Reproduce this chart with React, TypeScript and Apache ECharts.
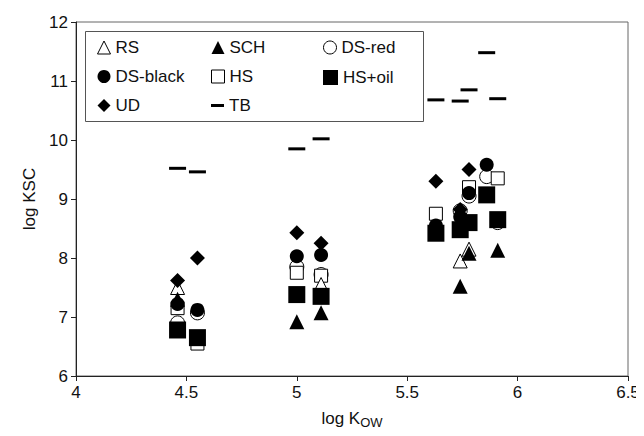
import React, { useEffect, useRef } from "react";
import * as echarts from "echarts";

const logKow = [4.46, 4.55, 5.0, 5.11, 5.63, 5.74, 5.78, 5.86, 5.91];
const RS = [7.5, null, null, 7.55, null, 7.95, 8.15, null, null];
const SCH = [7.3, null, 6.92, 7.07, null, 7.52, 8.08, null, 8.13];
const DSred = [6.9, 7.07, 7.85, 7.72, null, 8.8, 9.05, 9.38, 8.6];
const DSblack = [7.22, 7.12, 8.03, 8.05, 8.55, 8.7, 9.1, 9.58, null];
const HS = [7.15, 6.55, 7.75, 7.7, 8.75, null, 9.2, null, 9.35];
const HSoil = [6.78, 6.65, 7.38, 7.35, 8.42, 8.48, 8.6, 9.07, 8.65];
const UD = [7.62, 8.0, 8.43, 8.25, 9.3, 8.82, 9.5, null, null];
const TB = [9.52, 9.46, 9.85, 10.02, 10.68, 10.66, 10.85, 11.48, 10.7];

const pairs = (vals: (number | null)[]) =>
  logKow.map((x, i) => [x, vals[i]]).filter((p) => p[1] !== null);

const FONT = "Liberation Sans, Arial, sans-serif";
const TXT = "#111";

export default function App() {
  const ref = useRef<HTMLDivElement>(null);
  useEffect(() => {
    const chart = echarts.init(ref.current!, undefined, { renderer: "svg" });
    const open = { color: "#fff", borderColor: "#000", borderWidth: 1, opacity: 1 };
    const filled = { color: "#000", opacity: 1 };
    const mk = (name: string, data: (number | null)[], symbol: string, size: any, style: any, z = 2) => ({
      name,
      type: "scatter",
      data: pairs(data),
      symbol,
      symbolSize: size,
      itemStyle: style,
      z,
    });
    const legendBase = {
      orient: "vertical",
      itemWidth: 13,
      itemHeight: 13,
      itemGap: 9,
      padding: 0,
      selectedMode: false,
      itemStyle: { borderWidth: 1 },
      textStyle: { fontFamily: FONT, fontSize: 17, color: TXT, lineHeight: 20 },
      z: 10,
    };
    chart.setOption({
      animation: false,
      textStyle: { fontFamily: FONT },
      grid: { left: 76, right: 16, top: 22, bottom: 60, show: true, borderColor: "#666", borderWidth: 1 },
      xAxis: {
        type: "value",
        min: 4,
        max: 6.5,
        interval: 0.5,
        axisLine: { lineStyle: { color: "#222" } },
        axisTick: { show: true, length: 5, lineStyle: { color: "#222" } },
        axisLabel: { fontSize: 17, color: TXT, margin: 8 },
        splitLine: { show: false },
        name: "{a|log K}{b|OW}",
        nameLocation: "middle",
        nameGap: 31,
        nameTextStyle: {
          rich: {
            a: { fontSize: 17, color: TXT, fontFamily: FONT },
            b: { fontSize: 13, color: TXT, fontFamily: FONT, padding: [9, 0, 0, 0] },
          },
        },
      },
      yAxis: {
        type: "value",
        min: 6,
        max: 12,
        interval: 1,
        axisLine: { show: true, lineStyle: { color: "#222" } },
        axisTick: { show: true, length: 5, lineStyle: { color: "#222" } },
        axisLabel: { fontSize: 17, color: TXT, margin: 8 },
        splitLine: { show: false },
        name: "log KSC",
        nameLocation: "middle",
        nameGap: 38,
        nameTextStyle: { fontSize: 17, color: TXT },
      },
      graphic: [
        {
          type: "rect",
          shape: { x: 85.5, y: 31.5, width: 338, height: 90 },
          style: { fill: "#fff", stroke: "#555", lineWidth: 1 },
          z: 5,
        },
      ],
      legend: [
        { ...legendBase, left: 97, top: 37.5, data: ["RS", "DS-black", "UD"] },
        { ...legendBase, left: 211, top: 37.5, data: ["SCH", "HS"] },
        { ...legendBase, left: 323, top: 37.5, data: ["DS-red"] },
        { ...legendBase, left: 323, top: 67.5, itemWidth: 15, itemHeight: 15, data: ["HS+oil"] },
        { ...legendBase, left: 211, top: 95.5, itemHeight: 3, data: ["TB"] },
      ],
      series: [
        mk("TB", TB, "rect", [17, 3], filled, 1),
        mk("DS-red", DSred, "circle", 14, open, 2),
        mk("HS", HS, "rect", 13, open, 2),
        mk("RS", RS, "triangle", 14, open, 3),
        mk("DS-black", DSblack, "circle", 14, filled, 3),
        mk("UD", UD, "diamond", 15, filled, 3),
        mk("HS+oil", HSoil, "rect", 17, filled, 4),
        mk("SCH", SCH, "triangle", 15, filled, 4),
      ],
    });
    return () => chart.dispose();
  }, []);
  return <div ref={ref} style={{ width: 644, height: 436, margin: -8 }} />;
}
